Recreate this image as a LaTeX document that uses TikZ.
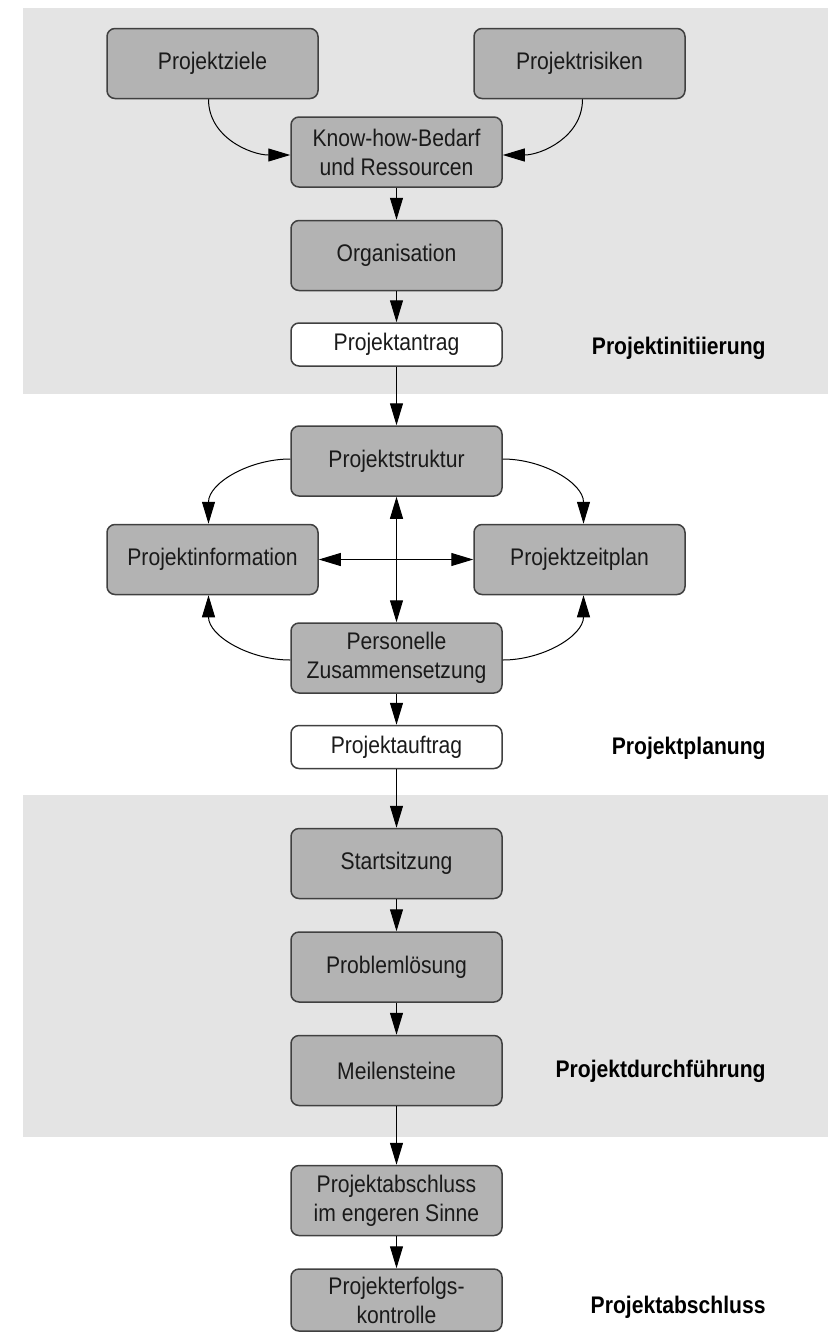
\documentclass[tikz,border=0pt]{standalone}
\usepackage{fontspec}
\setmainfont{Liberation Sans}[FakeStretch=0.88]
\usetikzlibrary{arrows.meta}

\definecolor{bandgray}{RGB}{228,228,228}
\definecolor{boxgray}{RGB}{179,179,179}
\definecolor{edgegray}{RGB}{64,64,64}
\definecolor{inkcol}{RGB}{26,26,26}

\tikzset{
  phase/.style={draw=edgegray, line width=0.75pt, rounded corners=4pt,
    fill=boxgray, minimum width=105.5pt, minimum height=35pt,
    align=center, inner sep=0pt, text=inkcol,
    font=\fontsize{12}{14.5}\selectfont},
  doc/.style={phase, fill=white, minimum height=21.5pt},
  stage/.style={anchor=east, text=black, inner sep=0pt,
    font=\fontsize{12}{14}\selectfont\bfseries},
  band/.style={fill=bandgray, draw=none},
  link/.style={draw=black, line width=0.5pt,
    -{Triangle[length=11pt,width=6.5pt]}},
  bilink/.style={link, {Triangle[length=11pt,width=6.5pt]}-{Triangle[length=11pt,width=6.5pt]}}
}

\begin{document}
\begin{tikzpicture}[x=0.5pt,y=-0.5pt]
  \useasboundingbox (0,0) rectangle (833,1334);

  % phase backgrounds
  \path[band] (23,8) rectangle (828,394);
  \path[band] (23,795) rectangle (828,1137);

  % initiation
  \node[phase] (ziele)   at (212.5,63.5) {Projektziele};
  \node[phase] (risiken) at (579.5,63.5) {Projektrisiken};
  \node[phase] (know)    at (396.5,152)  {Know-how-Bedarf\\und Ressourcen};
  \node[phase] (org)     at (396.5,255.5) {Organisation};
  \node[doc]   (antrag)  at (396.5,344.5) {Projektantrag};

  % planning
  \node[phase] (struktur) at (396.5,461)   {Projektstruktur};
  \node[phase] (info)     at (212.5,559.5) {Projektinformation};
  \node[phase] (zeit)     at (579.5,559.5) {Projektzeitplan};
  \node[phase] (personal) at (396.5,658)   {Personelle\\Zusammensetzung};
  \node[doc]   (auftrag)  at (396.5,747)   {Projektauftrag};

  % execution
  \node[phase] (start)   at (396.5,863.5) {Startsitzung};
  \node[phase] (problem) at (396.5,967)   {Problemlösung};
  \node[phase] (meilen)  at (396.5,1070.5) {Meilensteine};

  % closure
  \node[phase] (abschl)  at (396.5,1200.5) {Projektabschluss\\im engeren Sinne};
  \node[phase, minimum height=31pt] (erfolg) at (396.5,1300) {Projekterfolgs-\\kontrolle};

  % phase labels
  \node[stage] (l1) at (766,348)  {Projektinitiierung};
  \node[stage] (l2) at (766,748)  {Projektplanung};
  \node[stage] (l3) at (766,1071) {Projektdurchführung};
  \node[stage] (l4) at (766,1307) {Projektabschluss};

  % connectors
  \draw[link] ([xshift=-2pt]ziele.south) to[out=-90,in=180] ([yshift=-1.5pt]know.west);
  \draw[link] ([xshift=1.5pt]risiken.south) to[out=-90,in=0] ([yshift=-1.5pt]know.east);
  \draw[link] (know) -- (org);
  \draw[link] (org) -- (antrag);
  \draw[link] (antrag) -- (struktur);

  \draw[link] ([yshift=1pt]struktur.west) to[out=180,in=90] ([xshift=-2pt]info.north);
  \draw[link] ([yshift=1pt]struktur.east) to[out=0,in=90] ([xshift=2pt]zeit.north);
  \draw[link] ([yshift=-1pt]personal.west) to[out=180,in=-90] ([xshift=-2pt]info.south);
  \draw[link] ([yshift=-1pt]personal.east) to[out=0,in=-90] ([xshift=2pt]zeit.south);
  \draw[bilink] (info) -- (zeit);
  \draw[bilink] (struktur) -- (personal);
  \draw[link] (personal) -- (auftrag);

  \draw[link] (auftrag) -- (start);
  \draw[link] (start) -- (problem);
  \draw[link] (problem) -- (meilen);
  \draw[link] (meilen) -- (abschl);
  \draw[link] (abschl) -- (erfolg);
\end{tikzpicture}
\end{document}
